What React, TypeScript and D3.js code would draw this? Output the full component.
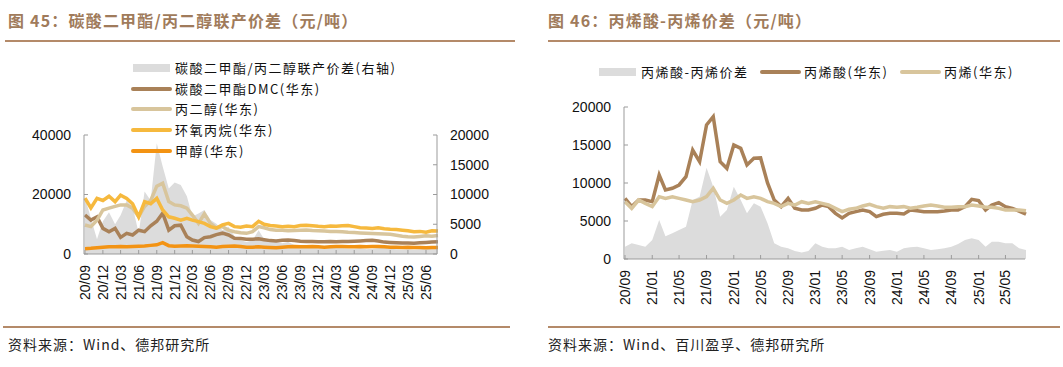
import React from "react";
import * as d3 from "d3";

// monthly points, 20/09 .. 25/08
const months = d3.timeMonth.range(new Date(2020, 8, 1), new Date(2025, 8, 1));

// 图45: 碳酸二甲酯/丙二醇联产价差 (右轴) and prices (左轴)
const dmcPgSpread = [
  9500, 6000, 2500, 5500, 7000, 5000, 6500, 9000, 8000, 3500,
  10500, 9000, 18600, 14700, 11000, 12000, 11600, 9700, 6300, 6800,
  7400, 5700, 5100, 4000, 4600, 3000, 2300, 2000, 2300, 4000,
  2500, 2200, 2000, 1800, 2000, 1500, 1400, 1500, 1200, 1000,
  900, 1000, 1100, 1000, 900, 900, 1000, 800, 900, 1000,
  1000, 900, 800, 700, 800, 700, 800, 900, 1000, 1100,
];
const dmcPrice = [
  13100, 11400, 12500, 8600, 7500, 8600, 5600, 6950, 6400, 8000,
  7500, 9500, 11000, 13700, 8000, 9500, 9700, 5800, 4700, 4200,
  5500, 5800, 6500, 7000, 6400, 5300, 5200, 5000, 5000, 5100,
  4800, 4500, 4400, 4600, 4700, 4500, 4300, 4200, 4200, 4100,
  4100, 4200, 4100, 4200, 4200, 4300, 4400, 4500, 4600, 4400,
  4000, 3900, 3800, 3700, 3700, 3600, 3800, 3900, 4000, 4100,
];
const pgPrice = [
  9750, 9200, 11400, 14800, 15400, 16000, 16500, 16500, 15400, 12500,
  16000, 18000, 22800, 23800, 17600, 16500, 16200, 15400, 13100, 10300,
  13500, 10300, 8700, 9200, 8000, 7500, 7150, 6950, 7500, 9200,
  8800, 8200, 8000, 8000, 7800, 7900, 8000, 8100, 7900, 7800,
  7700, 7600, 7600, 7500, 7300, 7200, 7100, 7000, 6900, 6800,
  6700, 6600, 6300, 6000, 5800, 5700, 5900, 6100, 6000, 6200,
];
const poPrice = [
  18800, 15500, 18700, 18000, 19400, 17600, 19800, 18700, 16900, 12500,
  17600, 16900, 18700, 14800, 12500, 12000, 11400, 12000, 11400, 10900,
  10300, 9200, 8700, 9800, 10300, 9200, 9000, 9400, 9200, 11000,
  10000, 9600, 9400, 9200, 9300, 9200, 9600, 9700, 9500, 9300,
  9200, 9400, 9300, 9500, 9600, 9200, 8800, 8700, 8600, 8800,
  8500, 8300, 8200, 8000, 7800, 7500, 7600, 7300, 7800, 7700,
];
const methanolPrice = [
  1800, 1900, 2100, 2300, 2400, 2400, 2500, 2400, 2500, 2600,
  2700, 2900, 3100, 3800, 2800, 2600, 2700, 2800, 2700, 2600,
  2500, 2400, 2300, 2500, 2600, 2700, 2500, 2300, 2300, 2400,
  2300, 2200, 2100, 2300, 2400, 2500, 2400, 2400, 2500, 2400,
  2300, 2400, 2500, 2500, 2400, 2400, 2500, 2400, 2500, 2500,
  2400, 2300, 2300, 2200, 2300, 2200, 2200, 2100, 2200, 2200,
];

// 图46: 丙烯酸-丙烯价差
const aaSpread = [
  1620, 2060, 1850, 1620, 2500, 5130, 3000, 3380, 3820, 4250,
  7760, 8200, 12000, 9500, 5570, 6450, 9520, 7760, 6010, 7330,
  6890, 4690, 2060, 1620, 1400, 1050, 850, 1050, 2060, 1620,
  1400, 1400, 1620, 1180, 1400, 1620, 1270, 960, 1090, 1180,
  960, 1400, 1530, 1620, 1400, 1180, 1270, 1400, 1620, 1970,
  2500, 2720, 2500, 1620, 2280, 2280, 2060, 2060, 1400, 1200,
];
const aaPrice = [
  7980, 6890, 7760, 7760, 7540, 11050, 9080, 9300, 9740, 10840,
  14340, 12800, 17630, 18730, 12800, 11930, 15000, 14560, 12370, 13250,
  13300, 10000, 7760, 6890, 7980, 6670, 6450, 6450, 6670, 7100,
  6890, 6010, 5400, 6010, 6230, 6450, 6230, 5570, 5880, 6010,
  6010, 5920, 6450, 6360, 6230, 6230, 6230, 6320, 6450, 6450,
  6890, 7850, 7680, 6450, 7110, 7410, 6890, 6670, 6300, 5900,
];
const propylenePrice = [
  7540, 6670, 7760, 7320, 6890, 8200, 7980, 8200, 7980, 7760,
  7540, 7760, 8200, 9300, 7760, 7320, 7760, 8420, 7980, 8200,
  7980, 7540, 7320, 6890, 7320, 7100, 7540, 7320, 7540, 7320,
  7110, 6670, 6230, 6540, 6670, 6980, 7200, 6890, 6670, 6890,
  6800, 6890, 6670, 6800, 6980, 7110, 6980, 6800, 6800, 6890,
  6890, 7110, 6980, 6800, 6800, 6670, 6450, 6450, 6450, 6350,
];

const yTicks45Left = [0, 20000, 40000];
const yTicks45Right = [0, 5000, 10000, 15000, 20000];
const yTicks46 = [0, 5000, 10000, 15000, 20000];
const xTicks45 = d3.timeMonth.range(new Date(2020, 8, 1), new Date(2025, 5, 2), 3);
const xTicks46 = d3.timeMonth.range(new Date(2020, 8, 1), new Date(2025, 4, 2), 4);

const BROWN = "#a98158";
const TAN = "#d8c59c";
const YELLOW = "#f6b93e";
const ORANGE = "#f39313";
const GREY = "#dcdcdc";
const TITLE = "#a07b5b";
const RULE = "#b48a69";
const AXIS = "#9b9b9b";
const CJK = "'Noto Sans CJK SC', sans-serif";
const NUM = "'Liberation Sans', Arial, sans-serif";
const fmt = d3.timeFormat("%y/%m");

function XAxis({ x, ticks, y, x0, x1 }: any) {
  return (
    <g>
      <line x1={x0} x2={x1} y1={y} y2={y} stroke={AXIS} />
      {ticks.map((d: Date, i: number) => (
        <g key={i}>
          <line x1={x(d)} x2={x(d)} y1={y} y2={y - 4} stroke={AXIS} />
          <text
            transform={`translate(${x(d)},${y + 11}) rotate(-90)`}
            textAnchor="end"
            dy="0.35em"
            fontFamily={NUM}
            fontSize={14}
            fill="#111"
          >
            {fmt(d)}
          </text>
        </g>
      ))}
    </g>
  );
}

function YAxis({ y, ticks, x, side }: any) {
  const r = y.range();
  const dir = side === "left" ? 1 : -1;
  return (
    <g>
      <line x1={x} x2={x} y1={r[0]} y2={r[1]} stroke={AXIS} />
      {ticks.map((v: number) => (
        <g key={v}>
          <line x1={x} x2={x + 4 * dir} y1={y(v)} y2={y(v)} stroke={AXIS} />
          <text
            x={side === "left" ? x - 13 : x + 13}
            y={y(v)}
            dy="0.35em"
            textAnchor={side === "left" ? "end" : "start"}
            fontFamily={NUM}
            fontSize={14}
            fill="#111"
          >
            {v}
          </text>
        </g>
      ))}
    </g>
  );
}

function LegendItem({ x, y, kind, color, label }: any) {
  return (
    <g>
      {kind === "area" ? (
        <rect x={x} y={y - 4} width={37} height={8} fill={color} />
      ) : (
        <line x1={x} x2={x + 37} y1={y} y2={y} stroke={color} strokeWidth={4} strokeLinecap="round" />
      )}
      <text x={x + 42} y={y} dy="0.35em" fontFamily={CJK} fontSize={13} letterSpacing={1.5} fill="#111">
        {label}
      </text>
    </g>
  );
}

function Chart45() {
  const x = d3.scaleTime().domain([months[0], months[59]]).range([85, 438]);
  const yL = d3.scaleLinear().domain([0, 40000]).range([254, 135]);
  const yR = d3.scaleLinear().domain([0, 20000]).range([254, 135]);
  const line = (arr: number[]) =>
    d3.line<number>().x((_, i) => x(months[i])).y((d) => yL(d))(arr) as string;
  const area = d3
    .area<number>()
    .x((_, i) => x(months[i]))
    .y0(yR(0))
    .y1((d) => yR(d));
  return (
    <g>
      <text x={8} y={27} fontFamily={CJK} fontSize={16} fontWeight="bold" letterSpacing={1.2} fill={TITLE}>
        图 45：碳酸二甲酯/丙二醇联产价差（元/吨）
      </text>
      <line x1={5} x2={515} y1={41} y2={41} stroke={RULE} strokeWidth={2} />
      <path d={area(dmcPgSpread) as string} fill={GREY} />
      <path d={line(dmcPrice)} fill="none" stroke={BROWN} strokeWidth={3.5} />
      <path d={line(pgPrice)} fill="none" stroke={TAN} strokeWidth={3.5} />
      <path d={line(poPrice)} fill="none" stroke={YELLOW} strokeWidth={3.5} />
      <path d={line(methanolPrice)} fill="none" stroke={ORANGE} strokeWidth={3.5} />
      <YAxis y={yL} ticks={yTicks45Left} x={84} side="left" />
      <YAxis y={yR} ticks={yTicks45Right} x={437} side="right" />
      <XAxis x={x} ticks={xTicks45} y={254} x0={84} x1={437} />
      <LegendItem x={133} y={68} kind="area" color={GREY} label="碳酸二甲酯/丙二醇联产价差(右轴)" />
      <LegendItem x={133} y={89} color={BROWN} label="碳酸二甲酯DMC(华东)" />
      <LegendItem x={133} y={109} color={TAN} label="丙二醇(华东)" />
      <LegendItem x={133} y={130} color={YELLOW} label="环氧丙烷(华东)" />
      <LegendItem x={133} y={151} color={ORANGE} label="甲醇(华东)" />
      <line x1={3} x2={510} y1={327} y2={327} stroke={RULE} strokeWidth={2} />
      <text x={8} y={350} fontFamily={CJK} fontSize={14} letterSpacing={1} fill="#222">
        资料来源：Wind、德邦研究所
      </text>
    </g>
  );
}

function Chart46() {
  const x = d3.scaleTime().domain([months[0], months[59]]).range([625, 1026]);
  const y = d3.scaleLinear().domain([0, 20000]).range([259, 107]);
  const line = (arr: number[]) =>
    d3.line<number>().x((_, i) => x(months[i])).y((d) => y(d))(arr) as string;
  const area = d3
    .area<number>()
    .x((_, i) => x(months[i]))
    .y0(y(0))
    .y1((d) => y(d));
  return (
    <g>
      <text x={548} y={27} fontFamily={CJK} fontSize={16} fontWeight="bold" letterSpacing={1.2} fill={TITLE}>
        图 46：丙烯酸-丙烯价差（元/吨）
      </text>
      <line x1={548} x2={1060} y1={41} y2={41} stroke={RULE} strokeWidth={2} />
      <path d={area(aaSpread) as string} fill={GREY} />
      <path d={line(aaPrice)} fill="none" stroke={BROWN} strokeWidth={3.5} />
      <path d={line(propylenePrice)} fill="none" stroke={TAN} strokeWidth={3.5} />
      <YAxis y={y} ticks={yTicks46} x={624} side="left" />
      <XAxis x={x} ticks={xTicks46} y={259} x0={624} x1={1025} />
      <LegendItem x={599} y={72} kind="area" color={GREY} label="丙烯酸-丙烯价差" />
      <LegendItem x={762} y={72} color={BROWN} label="丙烯酸(华东)" />
      <LegendItem x={902} y={72} color={TAN} label="丙烯(华东)" />
      <line x1={548} x2={1060} y1={327} y2={327} stroke={RULE} strokeWidth={2} />
      <text x={548} y={350} fontFamily={CJK} fontSize={14} letterSpacing={1} fill="#222">
        资料来源：Wind、百川盈孚、德邦研究所
      </text>
    </g>
  );
}

export default function App() {
  return (
    <svg
      width={1063}
      height={367}
      style={{ position: "absolute", left: 0, top: 0, background: "#fff" }}
    >
      <rect width={1063} height={367} fill="#fff" />
      <Chart45 />
      <Chart46 />
    </svg>
  );
}
